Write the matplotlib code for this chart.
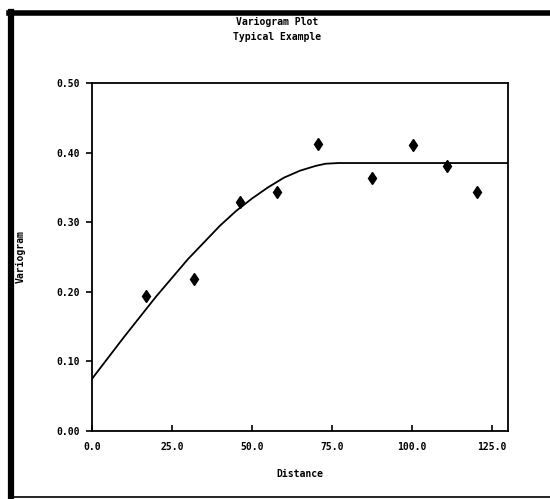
import matplotlib.pyplot as plt
from matplotlib.lines import Line2D

# observed semivariogram points
dist = [16.9, 31.9, 46.3, 57.8, 70.6, 87.5, 100.3, 111.0, 120.3]
gamma = [0.194, 0.218, 0.329, 0.343, 0.412, 0.364, 0.411, 0.381, 0.343]

# fitted model curve
model_x = [0, 5, 10, 15, 20, 25, 30, 35, 40, 45, 50, 55, 60, 65, 70, 73, 77, 130]
model_y = [0.075, 0.105, 0.135, 0.164, 0.193, 0.220, 0.247, 0.271, 0.295, 0.316,
           0.334, 0.350, 0.364, 0.374, 0.381, 0.384, 0.385, 0.385]

xticks = [0, 25, 50, 75, 100, 125]
yticks = [0.0, 0.1, 0.2, 0.3, 0.4, 0.5]

plt.rcParams['font.family'] = 'DejaVu Sans Mono'
plt.rcParams['font.weight'] = 'bold'

fig = plt.figure(figsize=(5.5, 4.99), dpi=100)
ax = fig.add_axes([0.1673, 0.1363, 0.7563, 0.6974])

ax.plot(model_x, model_y, color='black', lw=1.3)
ax.plot(dist, gamma, linestyle='none', marker='d', markersize=6.5, color='black')

ax.set_xlim(0, 130)
ax.set_ylim(0, 0.5)
ax.set_xticks(xticks)
ax.set_xticklabels([f'{v:.1f}' for v in xticks], fontsize=7, fontweight='bold')
ax.set_yticks(yticks)
ax.set_yticklabels([f'{v:.2f}' for v in yticks], fontsize=7, fontweight='bold')
ax.tick_params(axis='x', direction='in', length=4, width=1.2, pad=8)
ax.tick_params(axis='y', direction='out', length=4, width=1.2, pad=5)
for s in ax.spines.values():
    s.set_linewidth(1.3)

ax.set_xlabel('Distance', fontsize=7, fontweight='bold', labelpad=12)
ax.set_ylabel('Variogram', fontsize=7, fontweight='bold', labelpad=22)

fig.text(0.504, 0.955, 'Variogram Plot', ha='center', va='center', fontsize=7, fontweight='bold')
fig.text(0.504, 0.925, 'Typical Example', ha='center', va='center', fontsize=7, fontweight='bold')

# outer frame of the scanned page
fig.add_artist(Line2D([0.02, 0.02], [0.0, 0.975], color='black', lw=4.5, transform=fig.transFigure))
fig.add_artist(Line2D([0.016, 1.0], [0.973, 0.973], color='black', lw=4, transform=fig.transFigure))
fig.add_artist(Line2D([0.02, 1.0], [0.005, 0.005], color='black', lw=1.2, transform=fig.transFigure))

fig.savefig('out.png', dpi=100)
